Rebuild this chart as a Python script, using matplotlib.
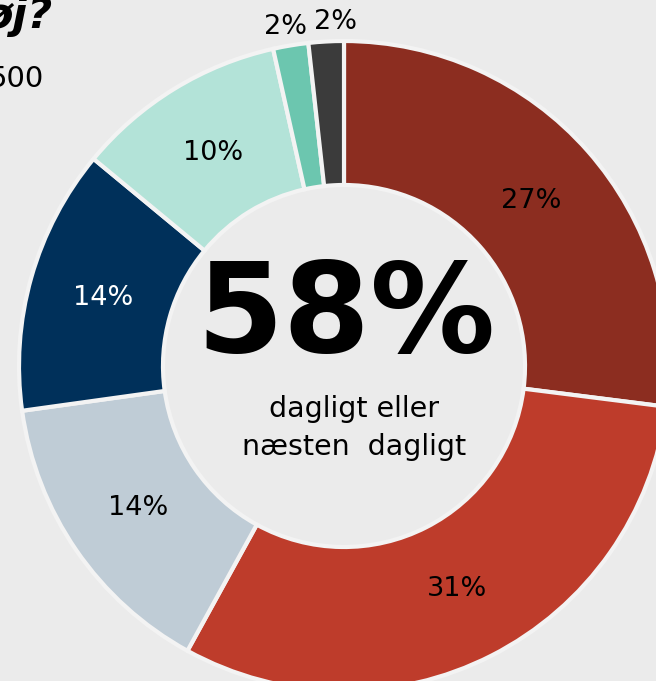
import matplotlib
matplotlib.use("Agg")
import matplotlib.pyplot as plt
import numpy as np

# shares (clockwise from 12 o'clock)
shares = [27.0, 31.0, 14.8, 13.2, 10.5, 1.75, 1.75]
labels = ["27%", "31%", "14%", "14%", "10%", "2%", "2%"]
colors = ["#8C2D20", "#BE3C2B", "#BFCCD6", "#00305A", "#B3E3D8", "#6CC6AF", "#3B3B3B"]
label_colors = ["black", "black", "black", "white", "black", "black", "black"]
outside = [False, False, False, False, False, True, True]
nudge_deg = [0, 0, 0, 0, 0, 0.4, -1.8]   # small shifts so the two 2% labels don't collide

headline = "58%"
sub_text = "dagligt eller\nnæsten  dagligt"

BG = "#EBEBEB"
W, H = 656, 681
cx, cy = 344, H - 366
R_OUT, R_IN = 325, 181

fig = plt.figure(figsize=(W / 100, H / 100), dpi=100, facecolor=BG)
ax = fig.add_axes([0, 0, 1, 1])
ax.set_facecolor(BG)

wedges, _ = ax.pie(shares, colors=colors, startangle=90, counterclock=False,
                   center=(cx, cy), radius=R_OUT,
                   wedgeprops=dict(width=R_OUT - R_IN, edgecolor="#F3F3F3", linewidth=3))

r_mid = 250
for w, lab, c, out, nd in zip(wedges, labels, label_colors, outside, nudge_deg):
    ang = np.deg2rad((w.theta1 + w.theta2) / 2 + nd)
    r = 344 if out else r_mid
    ax.text(cx + r * np.cos(ang), cy + r * np.sin(ang), lab, color=c,
            fontsize=19.5, family="DejaVu Sans", ha="center", va="center")

ax.text(cx + 2, H - 352, headline, fontsize=90, fontweight="bold",
        family="DejaVu Sans", ha="center", va="baseline", color="black")
ax.text(cx + 10, H - 428, sub_text, fontsize=20.5, family="DejaVu Sans",
        ha="center", va="center", linespacing=1.45, color="black")

# clipped title / subtitle at top left
ax.text(53, H - 28, "øj?", fontsize=31, fontweight="bold", style="italic",
        family="DejaVu Sans", ha="right", va="baseline")
ax.text(44, H - 87, "500", fontsize=21, family="DejaVu Sans",
        ha="right", va="baseline")

ax.set_xlim(0, W)
ax.set_ylim(0, H)
ax.set_aspect("equal")
ax.axis("off")

fig.savefig("out.png", dpi=100, facecolor=BG)
